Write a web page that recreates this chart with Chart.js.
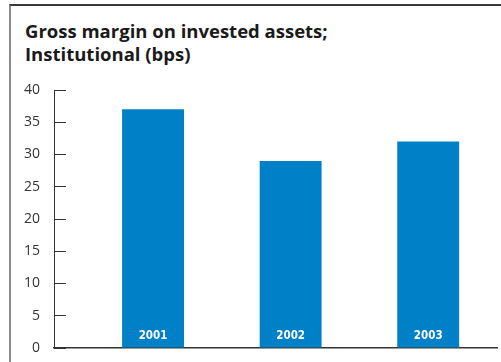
<!DOCTYPE html>
<html>
<head>
<meta charset="utf-8">
<script src="https://cdn.jsdelivr.net/npm/chart.js@4/dist/chart.umd.min.js"></script>
<style>
  html, body { margin: 0; padding: 0; background: #fff; }
  #wrap { position: relative; width: 501px; height: 362px; overflow: hidden; }
  #frame {
    position: absolute; left: 9px; top: 4px; right: 0; bottom: 0;
    border-top: 2px solid #3a3a3a; border-left: 2px solid #8a8a8a;
  }
  #titulo {
    position: absolute; left: 25px; top: 19px; margin: 0;
    font: bold 18.5px "Open Sans", sans-serif; line-height: 23px; color: #1a1a1a;
  }
  #grafico { position: absolute; left: 0; top: 0; }
</style>
</head>
<body>
<div id="wrap">
  <div id="frame"></div>
  <div id="titulo">Gross margin on invested assets;<br>Institutional (bps)</div>
  <canvas id="grafico" width="501" height="362"></canvas>
</div>
<script>
const categorias = ["2001", "2002", "2003"];
const margen = [37, 29, 32];
const ticksY = [0, 5, 10, 15, 20, 25, 30, 35, 40];

const azul = "#0080c6";

// año dentro de cada barra, abajo y en blanco
const etiquetasBarras = {
    id: "etiquetasBarras",
    afterDatasetsDraw(chart) {
        const ctx = chart.ctx;
        const meta = chart.getDatasetMeta(0);
        ctx.save();
        ctx.fillStyle = "#ffffff";
        ctx.font = "bold 11.5px 'DejaVu Sans', sans-serif";
        ctx.fontStretch = "condensed";
        ctx.textAlign = "center";
        ctx.textBaseline = "middle";
        meta.data.forEach((barra, i) => {
            ctx.fillText(categorias[i], barra.x, barra.base - 11);
        });
        ctx.restore();
    }
};

new Chart(document.getElementById("grafico").getContext("2d"), {
    type: "bar",
    data: {
        datasets: [{
            data: categorias.map((c, i) => ({ x: Number(c), y: margen[i] })),
            backgroundColor: azul,
            borderWidth: 0,
            barPercentage: 0.45,
            categoryPercentage: 1
        }]
    },
    options: {
        responsive: false,
        animation: false,
        layout: { padding: { left: 0, top: 90, right: 4, bottom: 14 } },
        plugins: { legend: { display: false }, tooltip: { enabled: false } },
        scales: {
            x: {
                type: "linear",
                offset: false,
                min: 2000.28,
                max: 2003.5,
                afterBuildTicks(scale) {
                    scale.ticks = categorias.map((c) => ({ value: Number(c) }));
                },
                grid: { display: false, offset: false },
                ticks: { display: false },
                border: { display: true, color: "#333", width: 1.5 },
                afterFit(scale) { scale.height = 0; }
            },
            y: {
                min: 0,
                max: 40,
                afterBuildTicks(scale) {
                    scale.ticks = ticksY.map((v) => ({ value: v }));
                },
                // las marcas van hacia dentro, así que el eje no necesita margen extra
                afterFit(scale) {
                    scale.width = 54;
                    scale.paddingTop = 0;
                    scale.paddingBottom = 0;
                },
                grid: { drawOnChartArea: false, tickLength: -12, color: "#333", tickWidth: 1 },
                border: { display: true, color: "#333", width: 1 },
                ticks: {
                    padding: 26,
                    color: "#333",
                    font: { family: "'Open Sans', sans-serif", size: 14 }
                }
            }
        }
    },
    plugins: [etiquetasBarras]
});
</script>
</body>
</html>
